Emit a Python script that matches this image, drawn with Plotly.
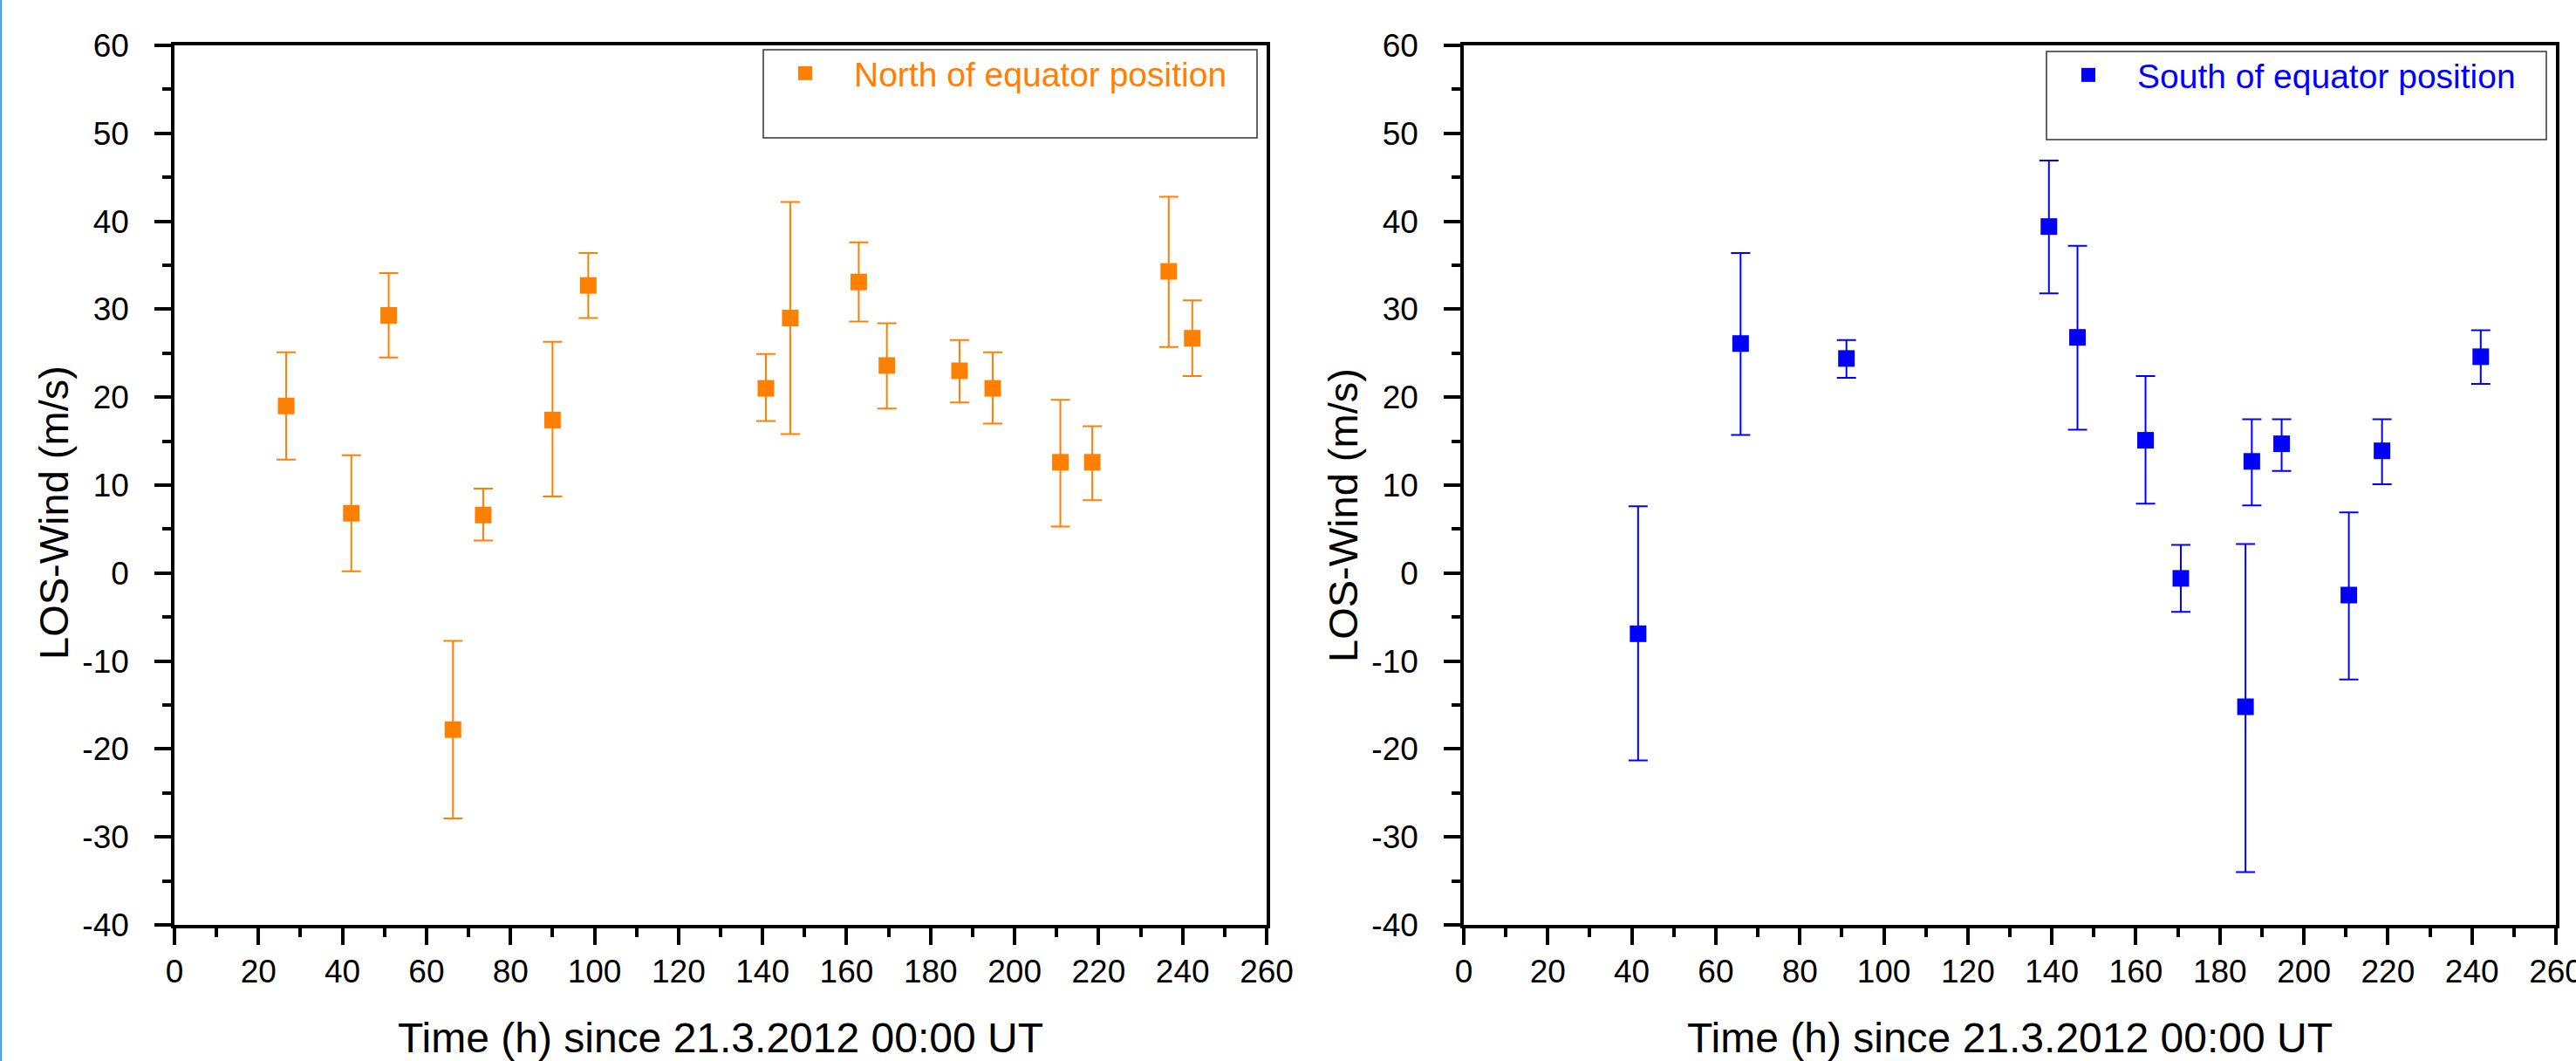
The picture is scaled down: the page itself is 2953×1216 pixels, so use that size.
import plotly.graph_objects as go

# ---- data ----
north_t = [26.6, 42.1, 51.0, 66.3, 73.5, 90.0, 98.5, 140.8, 146.6, 162.9, 169.6,
           186.9, 194.8, 210.9, 218.5, 236.7, 242.3]
north_w = [19.0, 6.8, 29.3, -17.8, 6.6, 17.4, 32.7, 21.0, 29.0, 33.1, 23.6,
           23.0, 21.0, 12.6, 12.6, 34.3, 26.7]
north_hi = [25.1, 13.4, 34.1, -7.7, 9.6, 26.3, 36.4, 24.9, 42.2, 37.6, 28.4,
            26.5, 25.1, 19.7, 16.7, 42.8, 31.0]
north_lo = [12.9, 0.2, 24.5, -27.9, 3.7, 8.7, 29.0, 17.3, 15.8, 28.6, 18.7,
            19.4, 17.0, 5.3, 8.3, 25.7, 22.4]

south_t = [41.5, 65.9, 91.1, 139.3, 146.1, 162.3, 170.7, 186.1, 187.6, 194.7,
           210.7, 218.6, 242.1]
south_w = [-6.9, 26.1, 24.4, 39.4, 26.8, 15.1, -0.6, -15.2, 12.7, 14.7,
           -2.5, 13.9, 24.6]
south_hi = [7.6, 36.4, 26.5, 46.9, 37.2, 22.4, 3.2, 3.3, 17.5, 17.5,
            6.9, 17.5, 27.6]
south_lo = [-21.3, 15.7, 22.2, 31.8, 16.3, 7.9, -4.4, -34.0, 7.7, 11.6,
            -12.1, 10.1, 21.5]

x_tickvals = [0, 20, 40, 60, 80, 100, 120, 140, 160, 180, 200, 220, 240, 260]
x_ticktext = ["0", "20", "40", "60", "80", "100", "120", "140", "160", "180",
              "200", "220", "240", "260"]
y_tickvals = [-40, -30, -20, -10, 0, 10, 20, 30, 40, 50, 60]
y_ticktext = ["-40", "-30", "-20", "-10", "0", "10", "20", "30", "40", "50", "60"]

x_title = "Time (h) since 21.3.2012 00:00 UT"
y_title = "LOS-Wind (m/s)"
north_name = "North of equator position"
south_name = "South of equator position"

ORANGE = "#FF8000"
BLUE = "#0000FF"
FONT = "Liberation Sans, Arial, sans-serif"

W, H = 2953, 1216
MT, MB = 52, 156
PH = H - MT - MB


def px_x(p):
    return p / W


def px_y(p):
    return (H - MB - p) / PH


fig = go.Figure()

fig.add_trace(go.Scatter(
    x=north_t, y=north_w, mode="markers", name=north_name,
    marker=dict(symbol="square", size=19, color=ORANGE),
    error_y=dict(type="data", symmetric=False,
                 array=[h - w for h, w in zip(north_hi, north_w)],
                 arrayminus=[w - l for w, l in zip(north_w, north_lo)],
                 color=ORANGE, thickness=2, width=11),
    xaxis="x", yaxis="y", legend="legend", showlegend=True,
))

fig.add_trace(go.Scatter(
    x=south_t, y=south_w, mode="markers", name=south_name,
    marker=dict(symbol="square", size=19, color=BLUE),
    error_y=dict(type="data", symmetric=False,
                 array=[h - w for h, w in zip(south_hi, south_w)],
                 arrayminus=[w - l for w, l in zip(south_w, south_lo)],
                 color=BLUE, thickness=2, width=11),
    xaxis="x2", yaxis="y2", legend="legend2", showlegend=True,
))

xcommon = dict(
    range=[0, 260], tickmode="array", tickvals=x_tickvals, ticktext=x_ticktext,
    showgrid=False, zeroline=False, automargin=False, ticklabeloverflow="allow",
    showline=True, linecolor="black", linewidth=3.5, mirror=True,
    ticks="outside", ticklen=19, tickwidth=3.5, tickcolor="black",
    minor=dict(dtick=10, tick0=0, ticks="outside", ticklen=10, tickwidth=3.5,
               tickcolor="black"),
    tickfont=dict(family=FONT, size=37, color="black"),
    title=dict(text=x_title, font=dict(family=FONT, size=48, color="black"), standoff=42),
    ticklabelstandoff=-1,
)
ycommon = dict(
    range=[-40, 60], tickmode="array", tickvals=y_tickvals, ticktext=y_ticktext,
    showgrid=False, zeroline=False, automargin=False, ticklabeloverflow="allow",
    showline=True, linecolor="black", linewidth=3.5, mirror=True,
    ticks="outside", ticklen=19, tickwidth=3.5, tickcolor="black",
    minor=dict(dtick=5, tick0=0, ticks="outside", ticklen=10, tickwidth=3.5,
               tickcolor="black"),
    tickfont=dict(family=FONT, size=37, color="black"),
    ticklabelstandoff=22,
)

ytitle_font = dict(family=FONT, size=47, color="black")

fig.update_layout(
    width=W, height=H,
    margin=dict(l=0, r=0, t=MT, b=MB),
    paper_bgcolor="white", plot_bgcolor="white",
    showlegend=True,
    xaxis=dict(domain=[px_x(200), px_x(1452)], anchor="y", **xcommon),
    yaxis=dict(domain=[0, 1], anchor="x", **ycommon),
    xaxis2=dict(domain=[px_x(1678), px_x(2930)], anchor="y2", **xcommon),
    yaxis2=dict(domain=[0, 1], anchor="x2", **ycommon),
    legend=dict(x=px_x(875 - 8), y=px_y(52), xanchor="left", yanchor="top",
                bgcolor="rgba(0,0,0,0)", borderwidth=0, itemwidth=102,
                font=dict(family=FONT, size=39, color=ORANGE)),
    legend2=dict(x=px_x(2346 - 8), y=px_y(54), xanchor="left", yanchor="top",
                 bgcolor="rgba(0,0,0,0)", borderwidth=0, itemwidth=102,
                 font=dict(family=FONT, size=39, color=BLUE)),
    annotations=[
        dict(text=y_title, textangle=-90, xref="paper", yref="paper",
             x=px_x(61), y=px_y(588), xanchor="center", yanchor="middle",
             showarrow=False, font=ytitle_font),
        dict(text=y_title, textangle=-90, xref="paper", yref="paper",
             x=px_x(1539), y=px_y(590), xanchor="center", yanchor="middle",
             showarrow=False, font=ytitle_font),
    ],
    shapes=[
        dict(type="rect", xref="paper", yref="paper",
             x0=px_x(875), x1=px_x(1441), y0=px_y(158), y1=px_y(57),
             line=dict(color="#333333", width=1.5)),
        dict(type="rect", xref="paper", yref="paper",
             x0=px_x(2346), x1=px_x(2919), y0=px_y(160), y1=px_y(59),
             line=dict(color="#333333", width=1.5)),
        dict(type="line", xref="paper", yref="paper",
             x0=px_x(1.2), x1=px_x(1.2), y0=px_y(H), y1=px_y(0),
             line=dict(color="#3A95E6", width=2)),
    ],
)

# remove the browser's default 8px page margin so the figure sits at (0, 0)
fig.write_html("out.html",
               config={"displayModeBar": False},
               post_script="document.body.style.margin='0';document.body.style.overflow='hidden';")
